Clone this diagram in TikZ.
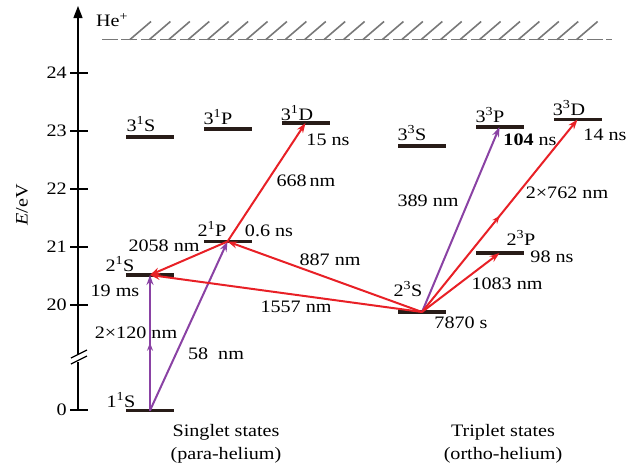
\documentclass[tikz,border=0pt]{standalone}
\usepackage{fontspec}
\setmainfont{Liberation Serif}[FakeStretch=1.15]
\usetikzlibrary{arrows.meta,decorations.markings}
\definecolor{tred}{RGB}{232,32,38}
\definecolor{tpur}{RGB}{138,66,164}
\definecolor{tlev}{RGB}{40,28,24}
\definecolor{hgray}{RGB}{120,120,120}
\begin{document}
\begin{tikzpicture}[x=1pt,y=-1pt,
  font=\fontsize{17.5}{20}\selectfont,
  lvl/.style={fill=tlev, minimum width=48pt, minimum height=3.2pt, inner sep=0pt, draw=none},
  lbl/.style={inner sep=0pt},
  trans/.style={line width=2pt, -{Stealth[length=10pt,width=7pt]}},
  redtr/.style={trans, draw=tred},
  purtr/.style={trans, draw=tpur},
  midarrow/.style={postaction={decorate}, decoration={markings, mark=at position 0.5 with {\arrow{Stealth[length=8pt,width=6pt]}}}},
  axisline/.style={line width=1.3pt, black},
  hatch/.style={line width=1.6pt, hgray},
]
\useasboundingbox (0,0) rectangle (640,466);

% axis
\coordinate (ax0) at (78,410);
\coordinate (axb1) at (78,362);
\coordinate (axb2) at (78,355);
\coordinate (axtop) at (78,6);
\draw[axisline] (ax0) -- (axb1);
\draw[axisline, -{Triangle[length=12pt,width=9pt]}] (axb2) -- (axtop);
\draw[axisline] (71,364) -- (87,356);
\draw[axisline] (71,358) -- (87,350);
\foreach \v/\y in {24/73,23/131,22/189,21/247,20/305,0/410}{
  \draw[axisline] (70,\y) -- (88,\y);
  \node[lbl, anchor=east] (t\v) at (67,\y) {\v};
}
\node[lbl, rotate=90] (elab) at (22,205) {\textit{E}/eV};

% ionisation limit
\draw[hatch, dash pattern=on 15.5pt off 3.9pt] (102,39.5) -- (612,39.5);
\foreach \i in {0,...,23}{
  \draw[hatch] ({130+\i*19.42},39.5) -- ++(21,-18);
}
\node[lbl] (hep) at (112,20) {He\textsuperscript{+}};

% levels
\node[lvl] (L11S) at (150,410.5) {};
\node[lvl] (L21S) at (150,275) {};
\node[lvl] (L21P) at (227.5,241.5) {};
\node[lvl] (L31S) at (150,137) {};
\node[lvl] (L31P) at (227.5,129) {};
\node[lvl] (L31D) at (305.5,123) {};
\node[lvl] (L23S) at (422,312) {};
\node[lvl] (L23P) at (499.5,253) {};
\node[lvl] (L33S) at (422,146) {};
\node[lvl] (L33P) at (499.5,127) {};
\node[lvl] (L33D) at (577.5,119.5) {};

% level labels
\node[lbl] at (121,400) {1\textsuperscript{1}S};
\node[lbl] at (120,264) {2\textsuperscript{1}S};
\node[lbl] at (115,291) {19 ms};
\node[lbl] at (212,229) {2\textsuperscript{1}P};
\node[lbl] at (269,231) {0.6 ns};
\node[lbl] at (141,124) {3\textsuperscript{1}S};
\node[lbl] at (218,117) {3\textsuperscript{1}P};
\node[lbl] at (297,113) {3\textsuperscript{1}D};
\node[lbl] at (328,140) {15 ns};
\node[lbl] at (412,133) {3\textsuperscript{3}S};
\node[lbl] at (490,115) {3\textsuperscript{3}P};
\node[lbl] at (530,140) {\textbf{104} ns};
\node[lbl] at (569,108) {3\textsuperscript{3}D};
\node[lbl] at (605,135) {14 ns};
\node[lbl] at (521,238) {2\textsuperscript{3}P};
\node[lbl] at (552,257) {98 ns};
\node[lbl] at (408,289) {2\textsuperscript{3}S};
\node[lbl] at (461,323) {7870 s};

% transitions
\draw[purtr, midarrow] (L11S.center) -- (L21S.center);
\draw[purtr] (L11S.center) -- (L21P.center);
\draw[redtr] (L21P.center) -- (L21S.center);
\draw[redtr] (L21P.center) -- (L31D.center);
\draw[redtr] (L23S.center) -- (L21P.center);
\draw[redtr] (L23S.center) -- (L21S.center);
\draw[purtr] (L23S.center) -- (L33P.center);
\draw[redtr, midarrow] (L23S.center) -- (L33D.center);
\draw[redtr] (L23S.center) -- (L23P.center);

% transition labels
\node[lbl] at (136,333) {2×120 nm};
\node[lbl] at (216,354) {58~~nm};
\node[lbl] at (164,246) {2058 nm};
\node[lbl] at (306,181) {668\,nm};
\node[lbl] at (330,260) {887 nm};
\node[lbl] at (296,307) {1557 nm};
\node[lbl] at (428,201) {389 nm};
\node[lbl] at (567,193) {2×762 nm};
\node[lbl] at (507,284) {1083 nm};

% group labels
\node[lbl] at (226,432) {Singlet states};
\node[lbl] at (226,455) {(para-helium)};
\node[lbl] at (503,432) {Triplet states};
\node[lbl] at (503,455) {(ortho-helium)};
\end{tikzpicture}
\end{document}
